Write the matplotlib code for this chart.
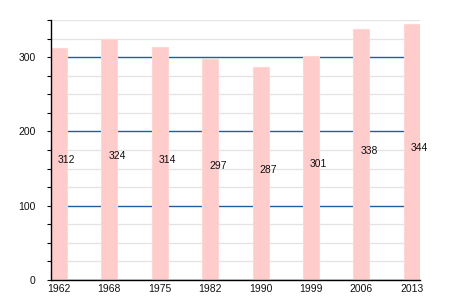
import numpy as np
import matplotlib
matplotlib.use("Agg")
import matplotlib.pyplot as plt
from matplotlib.ticker import MultipleLocator

plt.rcParams["font.family"] = ["Liberation Sans", "DejaVu Sans"]

years = ["1962", "1968", "1975", "1982", "1990", "1999", "2006", "2013"]
population = [312, 324, 314, 297, 287, 301, 338, 344]

fig = plt.figure(figsize=(4.5, 3), dpi=100)
ax = fig.add_axes([0.113, 0.0667, 0.82, 0.8667])

x = np.arange(len(years))
w = 0.316

# grid first so bars sit on top of it
ax.set_axisbelow(True)
ax.yaxis.set_major_locator(MultipleLocator(100))
ax.yaxis.set_minor_locator(MultipleLocator(25))
ax.grid(which="minor", axis="y", color="#e3e3e3", linewidth=0.9)
ax.grid(which="major", axis="y", color="#1a5ea6", linewidth=1.0)

ax.bar(x, population, width=w, color="#ffcccc", edgecolor="#ffd6d6", linewidth=0.8)

for xi, v in zip(x, population):
    ax.text(xi - 0.02, v / 2 + 5, str(v), ha="left", va="center", fontsize=7.5, color="#111111")

ax.set_xlim(-w / 2, len(years) - 1 + w / 2)
ax.set_ylim(0, 350)
ax.set_xticks(x)
ax.set_xticklabels(years)

for side in ("top", "right"):
    ax.spines[side].set_visible(False)
ax.spines["left"].set_linewidth(1.0)
ax.spines["bottom"].set_linewidth(1.0)
ax.tick_params(axis="both", labelsize=7.5, colors="#111111", length=3, width=0.8)
ax.tick_params(axis="x", length=0, pad=3)
ax.tick_params(axis="y", which="minor", length=3, width=0.8)
ax.tick_params(axis="y", which="major", pad=8)

fig.savefig("out.png", dpi=100)
